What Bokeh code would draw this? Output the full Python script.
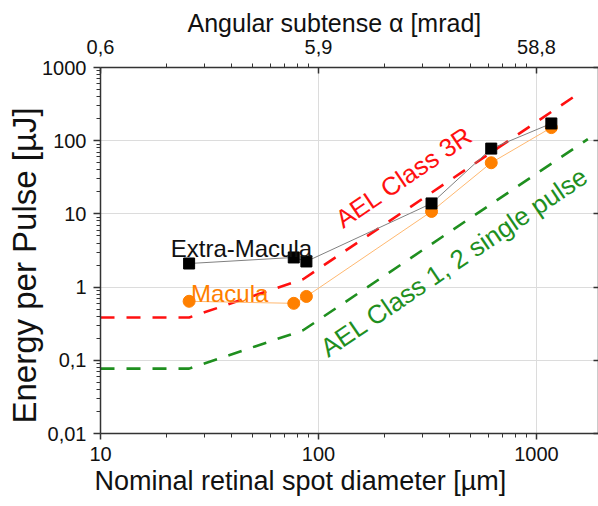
from bokeh.plotting import figure
from bokeh.models import LogAxis, FixedTicker, Label, Title
from bokeh.embed import file_html
from bokeh.resources import INLINE

# ---- data ----
spot_diam = [25.5, 77, 88, 330, 620, 1170]          # µm
extra_macula = [2.10, 2.54, 2.24, 13.9, 78, 172]    # µJ
macula = [0.64, 0.60, 0.745, 10.8, 50, 151]         # µJ

ael3r_x = [10, 25.5, 85, 1550]
ael3r_y = [0.385, 0.385, 1.28, 435]
ael1_x = [10, 25.5, 85, 1720]
ael1_y = [0.077, 0.077, 0.257, 105]

x_ticks = [10, 100, 1000]
x_tick_labels = ["10", "100", "1000"]
top_tick_labels = ["0,6", "5,9", "58,8"]
y_ticks = [0.01, 0.1, 1, 10, 100, 1000]
y_tick_labels = ["0,01", "0,1", "1", "10", "100", "1000"]

x_minor = [m * 10 ** k for k in (1, 2, 3) for m in range(2, 10)]
y_minor = [m * 10.0 ** k for k in (-2, -1, 0, 1, 2) for m in range(2, 10)]

FONT = "Liberation Sans"
AX = "#333333"
TXT = "#111111"

p = figure(width=598, height=506, x_axis_type="log", y_axis_type="log",
           x_range=(10, 1925), y_range=(0.01, 1000),
           output_backend="svg", toolbar_location=None,
           min_border_left=100, min_border_top=67, min_border_bottom=73,
           min_border_right=0)
p.outline_line_color = None
p.background_fill_color = "white"
p.border_fill_color = "white"

for g in (p.xgrid, p.ygrid):
    g.grid_line_color = "#dcdcdc"
    g.grid_line_width = 1

def style(ax):
    ax.axis_line_color = AX
    ax.axis_line_width = 1.5
    ax.major_tick_line_color = AX
    ax.minor_tick_line_color = AX
    ax.major_tick_line_width = 1.5
    ax.minor_tick_line_width = 1
    ax.major_label_text_font = FONT
    ax.major_label_text_font_size = "20px"
    ax.major_label_text_color = TXT

xa = p.xaxis[0]
xa.ticker = FixedTicker(ticks=x_ticks, minor_ticks=x_minor)
xa.major_label_overrides = dict(zip(x_ticks, x_tick_labels))
style(xa)
xa.major_tick_out = 6
xa.major_tick_in = 0
xa.minor_tick_out = 4
xa.minor_tick_in = 0
xa.major_label_standoff = 7

ya = p.yaxis[0]
ya.ticker = FixedTicker(ticks=y_ticks, minor_ticks=y_minor)
ya.major_label_overrides = dict(zip(y_ticks, y_tick_labels))
style(ya)
ya.major_tick_out = 7
ya.major_tick_in = 0
ya.minor_tick_out = 4
ya.minor_tick_in = 0
ya.major_label_standoff = 7

top = LogAxis(ticker=FixedTicker(ticks=x_ticks, minor_ticks=x_minor),
              major_label_overrides=dict(zip(x_ticks, top_tick_labels)))
style(top)
top.major_tick_in = 6
top.major_tick_out = 0
top.minor_tick_out = 4
top.minor_tick_in = 0
top.major_label_standoff = 10
p.add_layout(top, "above")

right = LogAxis(ticker=FixedTicker(ticks=y_ticks, minor_ticks=[]),
                major_label_overrides={t: "" for t in y_ticks})
style(right)
right.major_label_text_font_size = "0px"
right.major_tick_in = 5
right.major_tick_out = 0
right.minor_tick_in = 0
right.minor_tick_out = 0
right.major_label_standoff = 0
p.add_layout(right, "right")

# axis titles
def title(text, side, size, align, offset, standoff=0):
    p.add_layout(Title(text=text, align=align, offset=offset, standoff=standoff,
                       text_font=FONT, text_font_size=size,
                       text_font_style="normal", text_color=TXT), side)

title("Nominal retinal spot diameter [µm]", "below", "27px", "left", -6)
title("Energy per Pulse [µJ]", "left", "33px", "left", 10, standoff=-6)
title("Angular subtense α [mrad]", "above", "25px", "left", 87)

# AEL curves
p.line(ael3r_x, ael3r_y, line_color="#ff1010", line_width=2.6, line_dash="14 12")
p.line(ael1_x, ael1_y, line_color="#1f8f1f", line_width=2.6, line_dash="14 12")

# measured data
p.line(spot_diam, macula, line_color="#ffb870", line_width=1)
p.scatter(spot_diam, macula, marker="circle", size=12, fill_color="#ff8000",
          line_color="#ff8000")
p.line(spot_diam, extra_macula, line_color="#808080", line_width=1)
p.scatter(spot_diam, extra_macula, marker="square", size=11, fill_color="black",
          line_color="black")

def lab(text, x, y, color, angle=0.0, size="24px"):
    p.add_layout(Label(x=x, y=y, text=text, text_color=color, angle=angle,
                       text_font=FONT, text_font_size=size,
                       text_align="left", text_baseline="alphabetic"))

lab("Extra-Macula", 21, 3.37, TXT)
lab("Macula", 26, 0.82, "#ff8000")
lab("AEL Class 3R", 123, 7.87, "#ff1010", angle=0.595, size="25.5px")
lab("AEL Class 1, 2 single pulse", 105, 0.136, "#1f8f1f", angle=0.595,
    size="26px")

open("out.html", "w").write(file_html(p, INLINE))
